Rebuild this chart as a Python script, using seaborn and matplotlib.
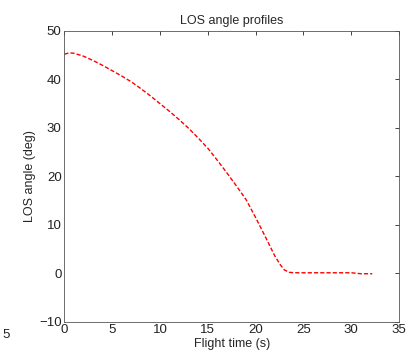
import matplotlib
matplotlib.use("Agg")
import matplotlib.pyplot as plt
import seaborn as sns
import pandas as pd

flight_time = [0.0, 0.5, 1.0, 2.0, 3.0, 4.0, 5.0, 6.0, 7.0, 8.0, 9.0, 10.0, 11.0,
               12.0, 13.0, 14.0, 15.0, 16.0, 17.0, 18.0, 19.0, 20.0, 21.0, 22.0,
               22.6, 23.0, 23.5, 24.0, 26.0, 28.0, 30.0, 30.5, 31.0, 32.2]
los_angle = [45.2, 45.5, 45.4, 44.8, 43.9, 42.9, 41.8, 40.7, 39.5, 38.1, 36.6, 35.0, 33.4,
             31.7, 29.9, 27.9, 25.8, 23.3, 20.7, 18.0, 15.2, 11.5, 7.6, 3.6,
             1.7, 0.7, 0.2, 0.1, 0.1, 0.1, 0.1, 0.0, -0.1, -0.1]

df = pd.DataFrame({"t": flight_time, "los": los_angle})

sns.set_style("white")
plt.rcParams["font.family"] = ["Liberation Sans", "DejaVu Sans"]

fig = plt.figure(figsize=(4.09, 3.6), dpi=100)
ax = fig.add_axes([0.1575, 0.1064, 0.8181, 0.8075])

sns.lineplot(data=df, x="t", y="los", ax=ax, color="#ff0000", linewidth=1.0,
             linestyle=(0, (3, 1.5)), sort=False)

ax.set_xlim(0, 35)
ax.set_ylim(-10, 50)
ax.set_xticks([0, 5, 10, 15, 20, 25, 30, 35])
ax.set_yticks([-10, 0, 10, 20, 30, 40, 50])
ax.tick_params(direction="in", length=3, width=0.6, labelsize=9.5, colors="#222222",
               top=True, right=True, pad=2)
for s in ax.spines.values():
    s.set_linewidth(0.6)
    s.set_color("#555555")
ax.set_xlabel("Flight time (s)", fontsize=9, labelpad=1)
ax.set_ylabel("LOS angle (deg)", fontsize=9, labelpad=2)
ax.set_title("LOS angle profiles", fontsize=9, pad=5)

fig.text(0.005, 0.06, "5", fontsize=9.5, color="#222222")

fig.savefig("out.png", dpi=100)
